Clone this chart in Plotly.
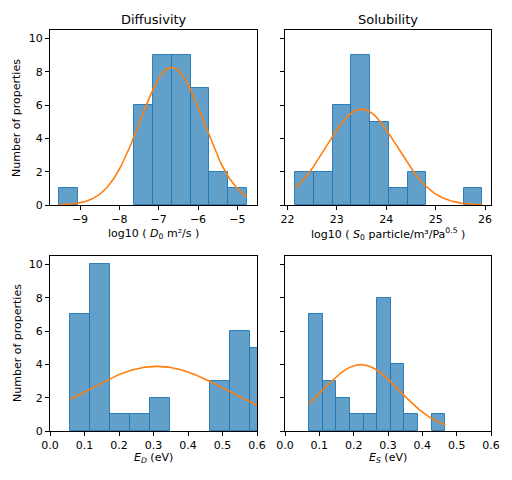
import numpy as np
import plotly.graph_objects as go

W, H = 512, 480
OFF = 8  # page body margin offset compensation

# ---- data ----
diff_counts = [1, 0, 0, 0, 6, 9, 9, 7, 2, 1]
diff_range = [-9.534, -4.758]
diff_fit = dict(mu=-6.67, sigma=0.81, peak=8.25)

sol_counts = [2, 2, 6, 9, 5, 1, 2, 0, 0, 1]
sol_range = [22.155, 25.947]
sol_fit = dict(mu=23.50, sigma=0.72, peak=5.75)

ed_counts = [7, 10, 1, 1, 2, 0, 0, 3, 6, 5]
ed_range = [0.0593, 0.638]
ed_fit = dict(mu=0.31, sigma=0.21, peak=3.88)

es_counts = [7, 3, 2, 1, 1, 8, 4, 1, 0, 1]
es_range = [0.0699, 0.467]
es_fit = dict(mu=0.221, sigma=0.113, peak=3.98)

titles = ["Diffusivity", "Solubility"]
xlabels = ["log10 ( <i>D</i><sub>0</sub> m²/s )",
           "log10 ( <i>S</i><sub>0</sub> particle/m³/Pa<sup>0.5</sup> )",
           "<i>E<sub>D</sub></i> (eV)",
           "<i>E<sub>S</sub></i> (eV)"]
ylabel = "Number of properties"
yticks = [0, 2, 4, 6, 8, 10]
xticks = [[-9, -8, -7, -6, -5], [22, 23, 24, 25, 26],
          [0.0, 0.1, 0.2, 0.3, 0.4, 0.5, 0.6], [0.0, 0.1, 0.2, 0.3, 0.4, 0.5, 0.6]]
xranges = [[-9.763, -4.50], [21.95, 26.12], [0.0, 0.6], [0.0, 0.6]]

panels = [(diff_counts, diff_range, diff_fit),
          (sol_counts, sol_range, sol_fit),
          (ed_counts, ed_range, ed_fit),
          (es_counts, es_range, es_fit)]

# pixel boxes in screenshot coords: (left, right, top, bottom)
boxes = [(50, 257, 30, 205), (285, 491, 30, 205),
         (50, 257, 256, 431), (285, 491, 256, 431)]


def px(x):
    return (x - OFF) / W


def py(y):
    return 1 - (y - OFF) / H


FONT = "DejaVu Sans"
fig = go.Figure()
layout = {}
for i, ((counts, rng, fit), box) in enumerate(zip(panels, boxes)):
    n = len(counts)
    bw = (rng[1] - rng[0]) / n
    centers = [rng[0] + bw * (k + 0.5) for k in range(n)]
    xa = "x" if i == 0 else f"x{i+1}"
    ya = "y" if i == 0 else f"y{i+1}"
    fig.add_trace(go.Bar(x=centers, y=counts, width=bw, xaxis=xa, yaxis=ya,
                         marker=dict(color="rgba(31,119,180,0.7)",
                                     line=dict(color="rgba(31,119,180,0.9)",
                                               width=[1 if c > 0 else 0 for c in counts])),
                         showlegend=False))
    xs = np.linspace(rng[0], rng[1], 300)
    ys = fit["peak"] * np.exp(-0.5 * ((xs - fit["mu"]) / fit["sigma"]) ** 2)
    fig.add_trace(go.Scatter(x=xs, y=ys, mode="lines", xaxis=xa, yaxis=ya,
                             line=dict(color="#ff7f0e", width=1.6), showlegend=False))
    l, r, t, b = box
    xkey = "xaxis" if i == 0 else f"xaxis{i+1}"
    ykey = "yaxis" if i == 0 else f"yaxis{i+1}"
    layout[xkey] = dict(domain=[px(l), px(r)], range=xranges[i], anchor=ya,
                        automargin=False, tickvals=xticks[i],
                        ticktext=[(f"{v:.1f}" if i >= 2 else f"{v}".replace("-", "−")) for v in xticks[i]],
                        ticks="outside", ticklen=4, tickwidth=1, tickcolor="black",
                        showline=True, linecolor="black", linewidth=1, mirror=True,
                        showgrid=False, zeroline=False,
                        tickfont=dict(family=FONT, size=11, color="black"))
    layout[ykey] = dict(domain=[py(b), py(t)], range=[0, 10.5], anchor=xa,
                        automargin=False, tickvals=yticks, showticklabels=(i % 2 == 0),
                        ticks="outside", ticklen=4, tickwidth=1, tickcolor="black",
                        showline=True, linecolor="black", linewidth=1, mirror=True,
                        showgrid=False, zeroline=False,
                        tickfont=dict(family=FONT, size=11, color="black"))

annotations = []
for i in range(2):
    l, r, t, b = boxes[i]
    annotations.append(dict(text=titles[i], x=px((l + r) / 2), y=py(19),
                            xref="paper", yref="paper", showarrow=False,
                            xanchor="center", yanchor="middle",
                            font=dict(family=FONT, size=13, color="black")))
label_y = [234, 234, 458, 458]
for i in range(4):
    l, r, t, b = boxes[i]
    annotations.append(dict(text=xlabels[i], x=px((l + r) / 2), y=py(label_y[i]),
                            xref="paper", yref="paper", showarrow=False,
                            xanchor="center", yanchor="middle",
                            font=dict(family=FONT, size=11, color="black")))
for cy in [118, 343]:
    annotations.append(dict(text=ylabel, x=px(17), y=py(cy), textangle=-90,
                            xref="paper", yref="paper", showarrow=False,
                            xanchor="center", yanchor="middle",
                            font=dict(family=FONT, size=11, color="black")))

fig.update_layout(width=W, height=H, margin=dict(l=0, r=0, t=0, b=0, autoexpand=False),
                  paper_bgcolor="white", plot_bgcolor="white",
                  bargap=0, annotations=annotations, **layout)
fig.write_html("out.html")
